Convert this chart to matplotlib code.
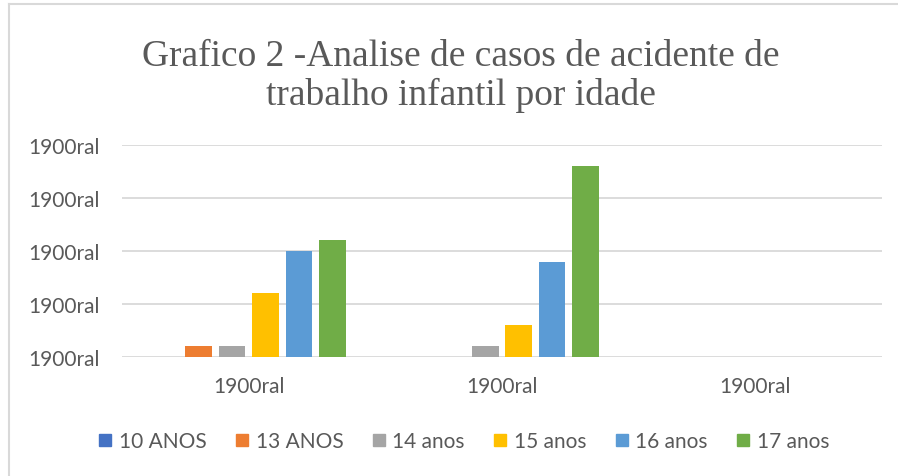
import numpy as np
import matplotlib
matplotlib.use('Agg')
import matplotlib.pyplot as plt
from matplotlib.lines import Line2D

categories = ['1900ral', '1900ral', '1900ral']
series = ['10 ANOS', '13 ANOS', '14 anos', '15 anos', '16 anos', '17 anos']
values = {
    '10 ANOS': [0, 0, 0],
    '13 ANOS': [1, 0, 0],
    '14 anos': [1, 1, 0],
    '15 anos': [6, 3, 0],
    '16 anos': [10, 9, 0],
    '17 anos': [11, 18, 0],
}
yticks = [0, 5, 10, 15, 20]
ytick_labels = ['1900ral'] * 5
colors = ['#4472C4', '#ED7D31', '#A5A5A5', '#FFC000', '#5B9BD5', '#70AD47']

txt = '#595959'
plt.rcParams['font.family'] = ['Lato', 'DejaVu Sans']

fig = plt.figure(figsize=(8.98, 4.77), dpi=100)
ax = fig.add_axes([122/898, 1 - 358/477, 760/898, 212/477])

r = np.arange(len(categories))
step = 0.132
width = 0.105
for i, s in enumerate(series):
    ax.bar(r + (i - 2.5) * step, values[s], width=width, color=colors[i], label=s, zorder=3)

ax.set_xlim(-0.5, 2.5)
ax.set_ylim(0, 20)
ax.set_yticks(yticks)
ax.set_yticklabels(ytick_labels)
ax.set_xticks(r)
ax.set_xticklabels(categories)
ax.tick_params(axis='y', length=0, pad=16, labelsize=15, labelcolor=txt)
ax.tick_params(axis='x', length=0, pad=14, labelsize=15, labelcolor=txt)
ax.grid(axis='y', color='#D9D9D9', linewidth=1.3, zorder=0)
for sp in ax.spines.values():
    sp.set_visible(False)

fig.text(0.513, 1 - 76/477, 'Grafico 2 -Analise de casos de acidente de\ntrabalho infantil por idade',
         ha='center', va='center', fontsize=27, color=txt,
         family=['Liberation Serif', 'DejaVu Serif'], linespacing=1.13)

handles = [Line2D([], [], marker='s', linestyle='none', markersize=8,
                  markerfacecolor=c, markeredgecolor=c) for c in colors]
fig.legend(handles, series, loc='center', bbox_to_anchor=(0.517, 1 - 442/477), ncol=6,
           frameon=False, fontsize=15, labelcolor=txt, handlelength=0.6,
           handletextpad=0.35, columnspacing=1.4)

# chart area border (left and top visible)
fig.add_artist(Line2D([9/898, 9/898], [0, 1 - 5/477], color='#D9D9D9', linewidth=1.5))
fig.add_artist(Line2D([9/898, 1], [1 - 5/477, 1 - 5/477], color='#D9D9D9', linewidth=1.5))

fig.savefig('out.png', dpi=100)
